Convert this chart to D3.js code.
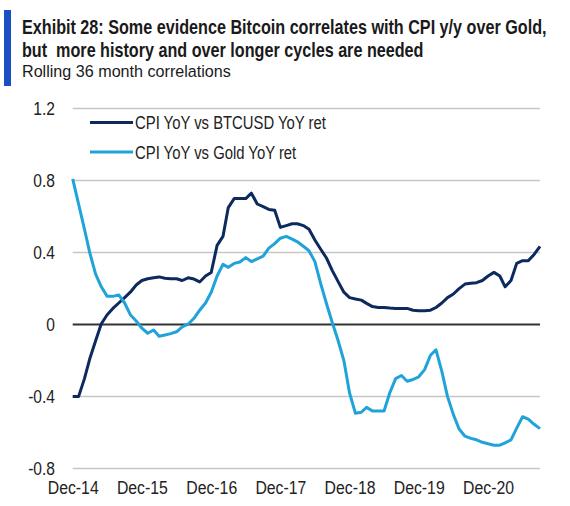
<!DOCTYPE html>
<html>
<head>
<meta charset="utf-8">
<script src="https://cdn.jsdelivr.net/npm/d3@7/dist/d3.min.js"></script>
<style>
  html, body { margin: 0; padding: 0; background: #fff; }
  svg { display: block; }
</style>
</head>
<body>
<svg id="chart" width="570" height="506"></svg>
<script>
// ---- Data (monthly, Dec-2014 .. Sep-2021) ----
const startMonth = "2014-12";
const btcSeries = [
  -0.40, -0.40, -0.30, -0.19, -0.09, 0.005, 0.055, 0.09, 0.12, 0.15, 0.18, 0.22,
  0.245, 0.255, 0.26, 0.265, 0.258, 0.255, 0.255, 0.245, 0.26, 0.253, 0.237, 0.27,
  0.29, 0.44, 0.49, 0.65, 0.70, 0.70, 0.70, 0.73, 0.67, 0.655, 0.64, 0.635,
  0.54, 0.55, 0.56, 0.56, 0.55, 0.53, 0.47, 0.42, 0.37, 0.30, 0.24, 0.18,
  0.15, 0.142, 0.136, 0.118, 0.10, 0.095, 0.095, 0.092, 0.09, 0.09, 0.09, 0.08,
  0.077, 0.077, 0.08, 0.095, 0.12, 0.15, 0.17, 0.20, 0.225, 0.23, 0.233, 0.245,
  0.27, 0.29, 0.27, 0.21, 0.245, 0.34, 0.355, 0.355, 0.39, 0.435
];
const goldSeries = [
  0.81, 0.67, 0.53, 0.40, 0.28, 0.21, 0.157, 0.157, 0.165, 0.12, 0.055, 0.02,
  -0.02, -0.048, -0.03, -0.065, -0.058, -0.05, -0.04, -0.012, 0.002, 0.035, 0.08, 0.12,
  0.18, 0.27, 0.335, 0.318, 0.34, 0.348, 0.372, 0.35, 0.365, 0.38, 0.425, 0.45,
  0.48, 0.49, 0.475, 0.46, 0.435, 0.41, 0.35, 0.23, 0.117, 0.01, -0.087, -0.20,
  -0.38, -0.493, -0.487, -0.46, -0.48, -0.48, -0.48, -0.38, -0.30, -0.283, -0.315, -0.305,
  -0.29, -0.25, -0.17, -0.14, -0.26, -0.40, -0.50, -0.58, -0.62, -0.632, -0.64, -0.654,
  -0.662, -0.67, -0.67, -0.657, -0.64, -0.575, -0.512, -0.525, -0.554, -0.578
];
const seriesNames = ["CPI YoY vs BTCUSD YoY ret", "CPI YoY vs Gold YoY ret"];
const seriesColors = ["#0c2a5e", "#1fa3d9"];
const yTicks = [-0.8, -0.4, 0, 0.4, 0.8, 1.2];
const yTickLabels = ["-0.8", "-0.4", "0", "0.4", "0.8", "1.2"];
const xTickLabels = ["Dec-14", "Dec-15", "Dec-16", "Dec-17", "Dec-18", "Dec-19", "Dec-20"];
const titleLines = [
  "Exhibit 28: Some evidence Bitcoin correlates with CPI y/y over Gold,",
  "but\u00a0 more history and over longer cycles are needed"
];
const subtitle = "Rolling 36 month correlations";

// ---- Build dates ----
const t0 = d3.timeParse("%Y-%m")(startMonth);
const dates = btcSeries.map((_, i) => d3.timeMonth.offset(t0, i));
const xTickDates = xTickLabels.map((_, i) => d3.timeMonth.offset(t0, i * 12));

const svg = d3.select("#chart");
const FONT = "'Liberation Sans Narrow', 'Liberation Sans', Arial, sans-serif";

function ratioFor(sel, target) {
  return target / sel.node().getComputedTextLength();
}
// horizontally condensed real text, positioned by transform
function addText(parent, tx, ty, str, size, weight, anchor) {
  return parent.append("text")
    .attr("transform", `translate(${tx},${ty})`)
    .attr("font-family", FONT).attr("font-size", size)
    .attr("font-weight", weight || "normal")
    .attr("text-anchor", anchor || "start")
    .attr("fill", "#1a1a1a").text(str);
}
function squeeze(sel, tx, ty, r) {
  sel.attr("transform", `translate(${tx},${ty}) scale(${r},1)`);
}

// ---- Header ----
svg.append("rect").attr("x", 4).attr("y", 10).attr("width", 7).attr("height", 76).attr("fill", "#1a50c2");

const t1 = addText(svg, 22, 34, titleLines[0], 20, "bold");
const tr = ratioFor(t1, 525);
squeeze(t1, 22, 34, tr);
const t2 = addText(svg, 22, 57, titleLines[1], 20, "bold");
squeeze(t2, 22, 57, tr);
const st = addText(svg, 22, 77, subtitle, 17);
squeeze(st, 22, 77, ratioFor(st, 209));

// ---- Scales ----
const x = d3.scaleTime().domain([dates[0], dates[dates.length - 1]]).range([72.7, 540]);
const y = d3.scaleLinear().domain([-0.8, 1.2]).range([468.6, 108.6]);

// ---- Grid ----
const grid = svg.append("g");
grid.selectAll("line").data(yTicks.filter(v => v !== 0)).join("line")
  .attr("x1", x.range()[0]).attr("x2", x.range()[1])
  .attr("y1", d => y(d)).attr("y2", d => y(d))
  .attr("stroke", "#c6c6c6").attr("stroke-width", 1.5);

// ---- Y axis labels ----
const yAxis = d3.axisLeft(y).tickValues(yTicks).tickSize(0).tickPadding(0)
  .tickFormat((d, i) => yTickLabels[i]);
const yg = svg.append("g").attr("transform", "translate(55,0)").call(yAxis);
yg.select(".domain").remove();
yg.selectAll("text").attr("font-family", FONT).attr("font-size", 19).attr("fill", "#222")
  .attr("x", 0).attr("transform", "scale(0.82,1)");

// ---- X axis labels ----
const xAxis = d3.axisBottom(x).tickValues(xTickDates).tickSize(0).tickPadding(0)
  .tickFormat((d, i) => xTickLabels[i]);
const xg = svg.append("g").attr("transform", "translate(0,480)").call(xAxis);
xg.select(".domain").remove();
xg.selectAll("text").attr("font-family", FONT).attr("font-size", 19).attr("fill", "#222");
const xr = ratioFor(xg.select("text"), 51);
xg.selectAll("text").attr("transform", `scale(${xr},1)`);

// ---- Zero line ----
svg.append("line").attr("x1", x.range()[0]).attr("x2", x.range()[1])
  .attr("y1", y(0)).attr("y2", y(0)).attr("stroke", "#333").attr("stroke-width", 2);

// ---- Lines ----
const line = d3.line().x((d, i) => x(dates[i])).y(d => y(d));
[btcSeries, goldSeries].forEach((s, k) => {
  svg.append("path").datum(s).attr("d", line).attr("fill", "none")
    .attr("stroke", seriesColors[k]).attr("stroke-width", 3)
    .attr("stroke-linejoin", "round");
});

// ---- Legend ----
const lg = svg.append("g");
let legRatio = 1;
[0, 1].forEach(k => {
  const yy = 122.5 + k * 29.5;
  lg.append("line").attr("x1", 90).attr("x2", 133).attr("y1", yy).attr("y2", yy)
    .attr("stroke", seriesColors[k]).attr("stroke-width", 3);
  const tx = addText(lg, 135, yy + 6.8, seriesNames[k], 19).attr("fill", "#222");
  if (k === 0) legRatio = ratioFor(tx, 191);
  squeeze(tx, 135, yy + 6.8, legRatio);
});
</script>
</body>
</html>
